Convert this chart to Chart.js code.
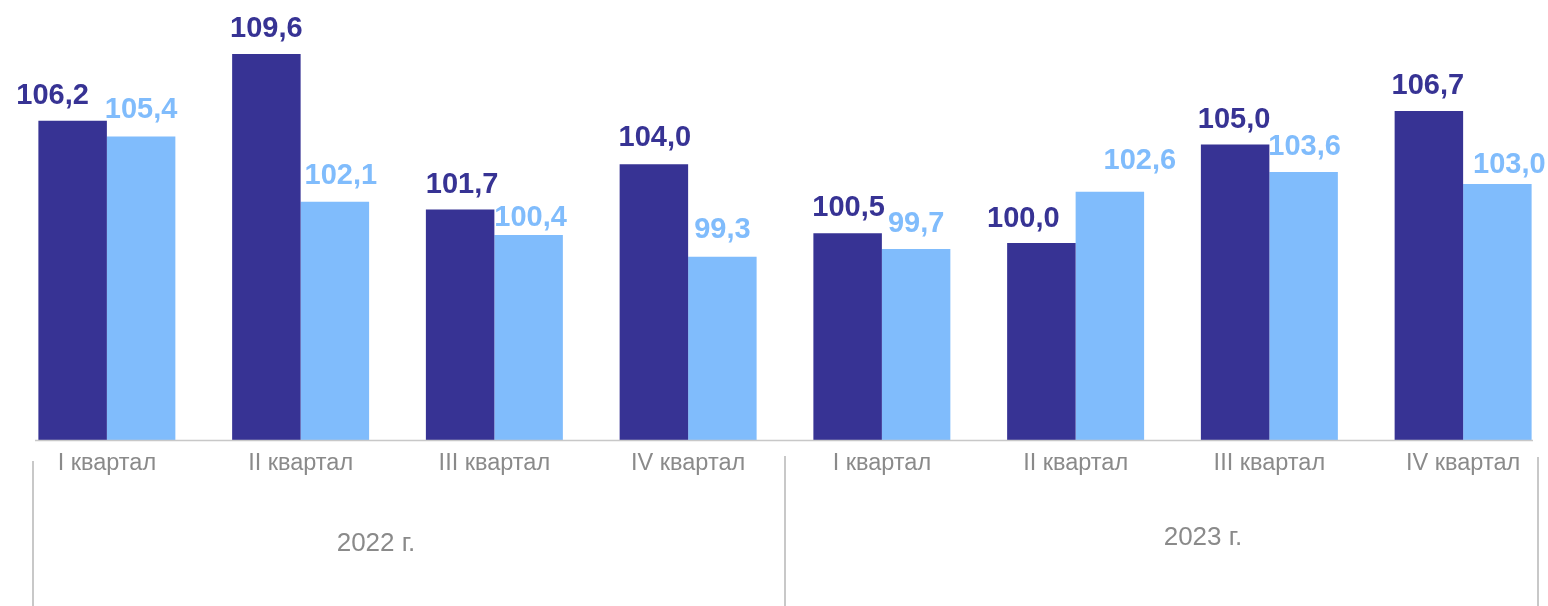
<!DOCTYPE html>
<html>
<head>
<meta charset="utf-8">
<script src="https://cdn.jsdelivr.net/npm/chart.js@4.4.1/dist/chart.umd.min.js"></script>
<style>
  html, body { margin: 0; padding: 0; background: #fff; overflow: hidden; }
  #wrap { position: relative; width: 1580px; height: 606px; }
</style>
</head>
<body>
<div id="wrap"><canvas id="chart"></canvas></div>
<script>
  // quarters along the axis, grouped by year
  const quarters = ['I квартал', 'II квартал', 'III квартал', 'IV квартал',
                    'I квартал', 'II квартал', 'III квартал', 'IV квартал'];
  const years = ['2022 г.', '2023 г.'];

  // two series, values as printed over the bars
  const seriesDark = [106.2, 109.6, 101.7, 104.0, 100.5, 100.0, 105.0, 106.7];
  const seriesLight = [105.4, 102.1, 100.4, 99.3, 99.7, 102.6, 103.6, 103.0];

  const yMin = 90, yMax = 110;

  const FONT = "'Liberation Sans', Arial, sans-serif";
  const DARK = '#373394';
  const LIGHT = '#80bcfc';
  const GREY = '#8a8a8a';
  const LINE = '#c8c8c8';

  // hand-placed label nudges in the original (px)
  const labelShift = [
    { dx: [-20, 0, 2, 1, 1, -18, -1, -1], dy: [0, 0, 0, -1, 0, 1, 0, 0] },
    { dx: [0, 6, 2, 0, 0, 30, 1, 12], dy: [-2, -1, 8, -2, 0, -6, 0, 6] }
  ];

  const fmt = v => v.toFixed(1).replace('.', ',');

  const valueLabels = {
    id: 'valueLabels',
    afterDatasetsDraw(chart) {
      const ctx = chart.ctx;
      ctx.save();
      ctx.font = 'bold 29px ' + FONT;
      ctx.textAlign = 'center';
      ctx.textBaseline = 'alphabetic';
      chart.data.datasets.forEach((ds, di) => {
        const meta = chart.getDatasetMeta(di);
        ctx.fillStyle = ds.backgroundColor;
        meta.data.forEach((bar, i) => {
          const s = labelShift[di];
          ctx.fillText(fmt(ds.data[i]), bar.x + s.dx[i], bar.y - 17 + s.dy[i]);
        });
      });
      ctx.restore();
    }
  };

  const axisDecor = {
    id: 'axisDecor',
    afterDraw(chart) {
      const ctx = chart.ctx;
      const xs = chart.scales.x;
      const base = chart.chartArea.bottom;
      ctx.save();
      ctx.strokeStyle = LINE;
      ctx.lineWidth = 1.5;
      // category axis line
      ctx.beginPath();
      ctx.moveTo(35, base + 0.5);
      ctx.lineTo(1533, base + 0.5);
      ctx.stroke();
      // year separators
      const mid = (xs.getPixelForValue(3) + xs.getPixelForValue(4)) / 2;
      ctx.lineWidth = 2;
      [[33, 461], [mid, 456], [1538, 457]].forEach(([x, y0]) => {
        ctx.beginPath();
        ctx.moveTo(x, y0);
        ctx.lineTo(x, 606);
        ctx.stroke();
      });
      // year labels
      ctx.fillStyle = GREY;
      ctx.font = '26px ' + FONT;
      ctx.textAlign = 'center';
      ctx.textBaseline = 'middle';
      ctx.fillText(years[0], 376, 544);
      ctx.fillText(years[1], 1203, 538);
      ctx.restore();
    }
  };

  new Chart(document.getElementById('chart'), {
    type: 'bar',
    data: {
      labels: quarters,
      datasets: [
        { data: seriesDark, backgroundColor: DARK },
        { data: seriesLight, backgroundColor: LIGHT }
      ]
    },
    options: {
      responsive: true,
      maintainAspectRatio: false,
      animation: false,
      events: [],
      layout: { padding: { left: 10, right: 20, top: 46, bottom: 0 } },
      datasets: { bar: { categoryPercentage: 0.707, barPercentage: 1.0 } },
      plugins: { legend: { display: false }, tooltip: { enabled: false } },
      scales: {
        x: {
          grid: { display: false },
          border: { display: false },
          ticks: { color: GREY, font: { family: FONT, size: 23.5 }, padding: 1, maxRotation: 0, autoSkip: false },
          afterFit: s => { s.height = 166; }
        },
        y: { display: false, min: yMin, max: yMax }
      }
    },
    plugins: [valueLabels, axisDecor]
  });
</script>
</body>
</html>
